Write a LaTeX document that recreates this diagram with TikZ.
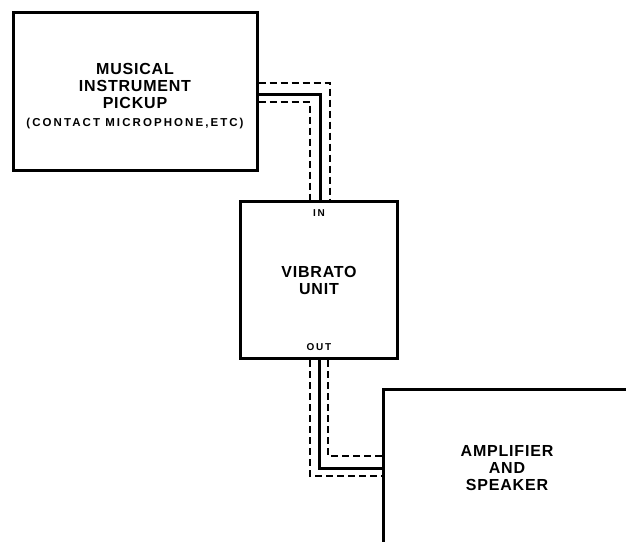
\documentclass[tikz,border=0pt]{standalone}
\usepackage{fontspec}
\setmainfont{Liberation Sans}
\newfontfamily\wordfont[LetterSpace=5]{Liberation Sans}
\newfontfamily\widefont[LetterSpace=18]{Liberation Sans}
\usetikzlibrary{positioning}
\begin{document}
\begin{tikzpicture}[x=1pt, y=-1pt, every node/.style={font=\fontsize{16}{17}\selectfont\wordfont\bfseries, align=center},
    unitbox/.style={draw, rectangle, line width=3pt, inner sep=0pt},
    wire/.style={line width=3pt},
    shield/.style={line width=2pt, dash pattern=on 7pt off 4pt},
    tag/.style={font=\fontsize{10}{11}\selectfont\widefont\bfseries}]
    \clip (0,0) rectangle (626,541);
    \node (pickup) [unitbox, minimum width=244pt, minimum height=158pt] at (135,91) {\rule{0pt}{22pt}MUSICAL\\INSTRUMENT\\PICKUP\\[1pt]{\fontsize{11.5}{11}\selectfont\widefont\bfseries (CONTACT MICROPHONE,ETC)}};
    \node (vibrato) [unitbox, minimum width=157pt, minimum height=157pt] at (319,280) {VIBRATO\\UNIT};
    \node (amp) [unitbox, minimum width=248pt, minimum height=158pt] at (507,468) {AMPLIFIER\\AND\\SPEAKER};
    \node (in) [tag, below=6pt of vibrato.north] {IN};
    \node (out) [tag, above=6pt of vibrato.south] {OUT};

    % cable from pickup to vibrato unit
    \draw [shield] ([yshift=8pt]pickup.east) -| ([xshift=11pt]vibrato.north);
    \draw [wire] ([yshift=-3pt]pickup.east) -| ([xshift=1pt]vibrato.north);
    \draw [shield] ([yshift=-11pt]pickup.east) -| ([xshift=-9pt]vibrato.north);

    % cable from vibrato unit to amplifier
    \draw [shield] ([xshift=-9pt]vibrato.south) |- ([yshift=-8pt]amp.west);
    \draw [wire] (vibrato.south) |- (amp.west);
    \draw [shield] ([xshift=9pt]vibrato.south) |- ([yshift=12pt]amp.west);
\end{tikzpicture}
\end{document}
